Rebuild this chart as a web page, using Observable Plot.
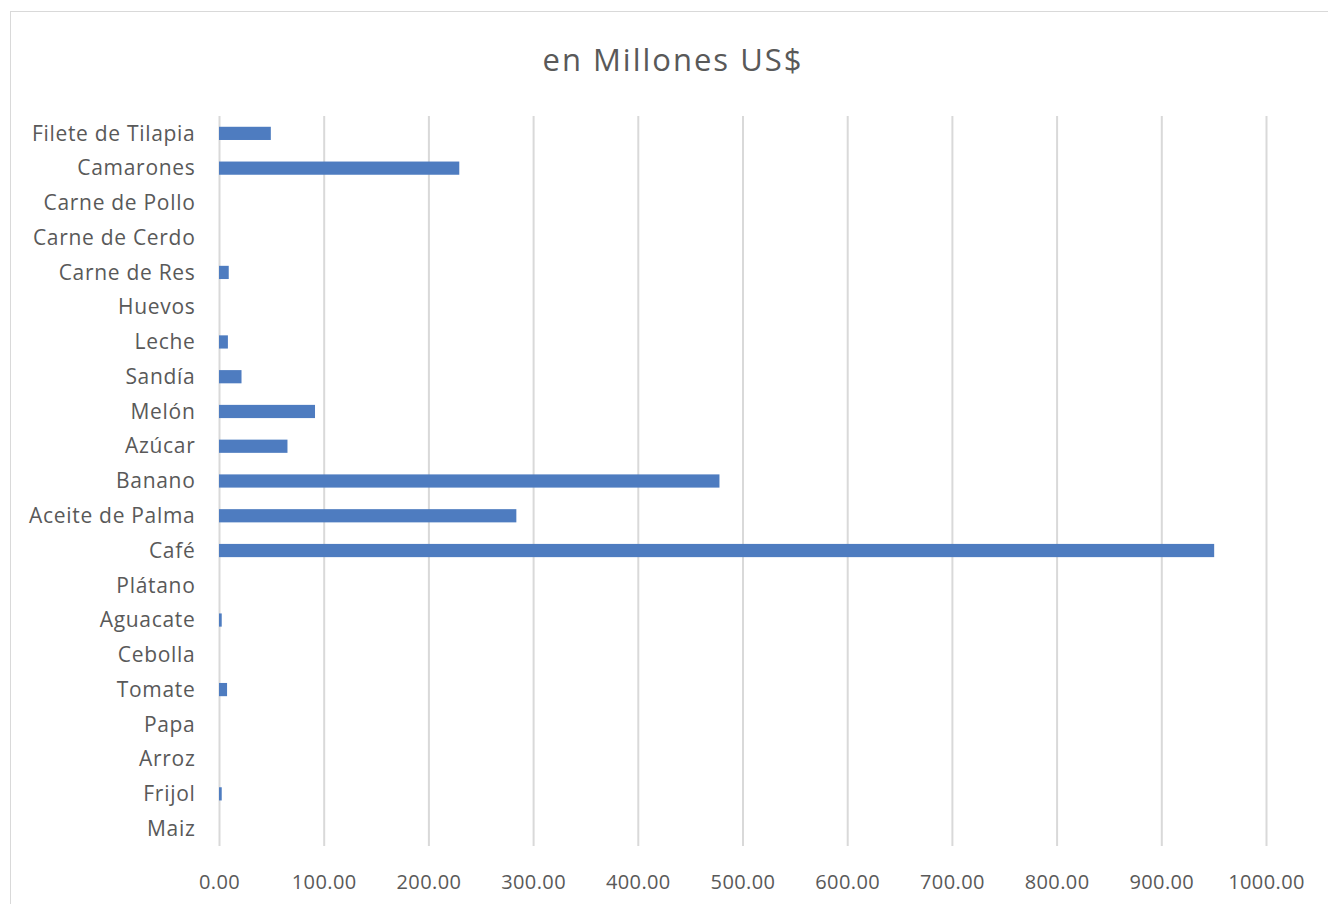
<!DOCTYPE html>
<html>
<head>
<meta charset="utf-8">
<script src="https://cdn.jsdelivr.net/npm/d3@7"></script>
<script src="https://cdn.jsdelivr.net/npm/@observablehq/plot@0.6"></script>
<style>
  html, body { margin: 0; padding: 0; background: #fff; }
  body { width: 1328px; height: 904px; overflow: hidden; position: relative; font-family: "Open Sans", sans-serif; }
  #frame { position: absolute; left: 10px; top: 11px; width: 1330px; height: 900px; border: 1px solid #d9d9d9; box-sizing: border-box; }
  #title { position: absolute; left: 9px; top: 0; width: 1328px; height: 95px; text-align: center; line-height: 118px; font-size: 31px; letter-spacing: 2px; color: #595959; }
  #chart { position: absolute; left: 0; top: 95px; }
  #chart .ylab text { letter-spacing: 0.7px; }
  #chart .xlab text { letter-spacing: 0.4px; }
</style>
</head>
<body>
<div id="frame"></div>
<div id="title">en Millones US$</div>
<div id="chart"></div>
<script>
const categories = ["Filete de Tilapia", "Camarones", "Carne de Pollo", "Carne de Cerdo", "Carne de Res", "Huevos", "Leche", "Sandía", "Melón", "Azúcar", "Banano", "Aceite de Palma", "Café", "Plátano", "Aguacate", "Cebolla", "Tomate", "Papa", "Arroz", "Frijol", "Maiz"];
const values = [49.5, 229.5, 0, 0, 9.3, 0, 8.5, 21.5, 91.7, 65.4, 478, 284, 950.5, 0, 2.6, 0, 7.7, 0, 0, 2.6, 0];
const xTicks = [0, 100, 200, 300, 400, 500, 600, 700, 800, 900, 1000];

const data = categories.map((c, i) => ({category: c, value: values[i]}));

const chart = Plot.plot({
  width: 1328,
  height: 809,
  marginLeft: 219,
  marginRight: 62,
  marginTop: 21,
  marginBottom: 58,
  style: { fontFamily: "'Open Sans', sans-serif", color: "#595959", background: "transparent" },
  x: { domain: [0, 1000] },
  y: { domain: categories, paddingInner: 0.62, paddingOuter: 0.31, round: false },
  marks: [
    Plot.gridX(xTicks, { stroke: "#d9d9d9", strokeOpacity: 1, strokeWidth: 2 }),
    Plot.barX(data, { x: "value", y: "category", fill: "#4e7cc0" }),
    Plot.axisX(xTicks, { tickSize: 0, tickPadding: 28, tickFormat: d => d.toFixed(2), fontSize: 20, label: null, fill: "#595959", className: "xlab" }),
    Plot.axisY({ tickSize: 0, tickPadding: 24, fontSize: 21, label: null, fill: "#595959", className: "ylab" })
  ]
});
document.getElementById("chart").appendChild(chart);
</script>
</body>
</html>
